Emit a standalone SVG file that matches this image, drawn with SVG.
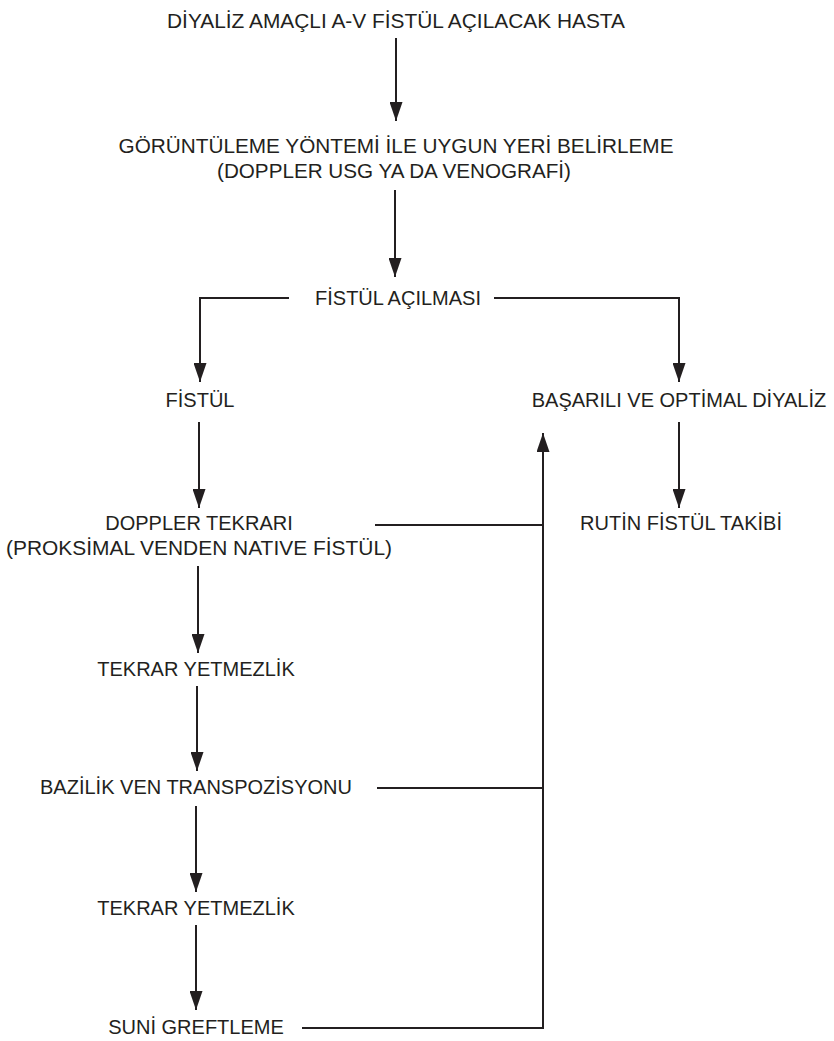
<svg xmlns="http://www.w3.org/2000/svg" width="834" height="1041" viewBox="0 0 834 1041">
<style>
text{font-family:"Liberation Sans",Arial,sans-serif;font-size:20px;fill:#231f20;text-anchor:middle}
.c{fill:none;stroke:#231f20;stroke-width:2}
.a{marker-end:url(#ah)}
</style>
<defs>
<marker id="ah" viewBox="0 0 19 13" markerWidth="19" markerHeight="13" refX="19" refY="6.5" orient="auto" markerUnits="userSpaceOnUse">
<path d="M0,0 L19,6.5 L0,13 z" fill="#231f20"/>
</marker>
</defs>
<rect width="834" height="1041" fill="#fff"/>
<g id="connectors">
<line class="c a" x1="396" y1="38" x2="396" y2="121"/>
<line class="c a" x1="395" y1="190" x2="395" y2="277"/>
<polyline class="c a" points="289,298 200,298 200,382"/>
<polyline class="c a" points="494,298 679,298 679,382"/>
<line class="c a" x1="199" y1="422" x2="199" y2="508"/>
<line class="c a" x1="679" y1="422" x2="679" y2="508"/>
<line class="c a" x1="198" y1="566" x2="198" y2="653"/>
<line class="c a" x1="197" y1="686" x2="197" y2="771"/>
<line class="c a" x1="196" y1="806" x2="196" y2="892"/>
<line class="c a" x1="196" y1="925" x2="196" y2="1010"/>
<line class="c" x1="375" y1="525" x2="543" y2="525"/>
<line class="c" x1="377" y1="788" x2="543" y2="788"/>
<polyline class="c a" points="302,1028 543,1028 543,433"/>
</g>
<g id="n1"><text x="396" y="28" textLength="458" lengthAdjust="spacingAndGlyphs">DİYALİZ AMAÇLI A-V FİSTÜL AÇILACAK HASTA</text></g>
<g id="n2"><text x="396" y="153" textLength="555" lengthAdjust="spacingAndGlyphs">GÖRÜNTÜLEME YÖNTEMİ İLE UYGUN YERİ BELİRLEME</text><text x="394" y="178" textLength="354" lengthAdjust="spacingAndGlyphs">(DOPPLER USG YA DA VENOGRAFİ)</text></g>
<g id="n3"><text x="398" y="305">FİSTÜL AÇILMASI</text></g>
<g id="n4"><text x="200" y="407">FİSTÜL</text></g>
<g id="n5"><text x="679" y="407">BAŞARILI VE OPTİMAL DİYALİZ</text></g>
<g id="n6"><text x="199" y="530">DOPPLER TEKRARI</text><text x="199" y="555" textLength="386" lengthAdjust="spacingAndGlyphs">(PROKSİMAL VENDEN NATIVE FİSTÜL)</text></g>
<g id="n7"><text x="681" y="530">RUTİN FİSTÜL TAKİBİ</text></g>
<g id="n8"><text x="196" y="676">TEKRAR YETMEZLİK</text></g>
<g id="n9"><text x="196" y="794">BAZİLİK VEN TRANSPOZİSYONU</text></g>
<g id="n10"><text x="196" y="915">TEKRAR YETMEZLİK</text></g>
<g id="n11"><text x="196" y="1034">SUNİ GREFTLEME</text></g>
</svg>
